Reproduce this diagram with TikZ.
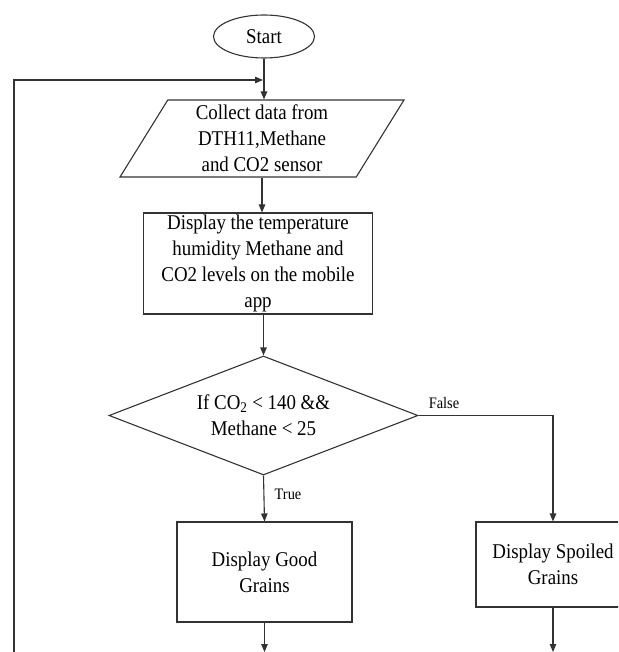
\documentclass[tikz,border=0pt]{standalone}
\usepackage{fontspec}
\setmainfont{Liberation Serif}[FakeStretch=0.9]
\usetikzlibrary{shapes.geometric,arrows.meta,calc}
\begin{document}
\begin{tikzpicture}[x=1pt,y=-1pt,
  every node/.style={font=\fontsize{21}{26}\selectfont},
  ln/.style={draw=black!80,line width=1.1pt},
  arr/.style={ln,-{Triangle[length=8pt,width=6.5pt]}},
  boxs/.style={ln,rectangle,inner sep=0pt,align=center},
  lbl/.style={font=\fontsize{16}{19}\selectfont,inner sep=0pt}]
\clip (0,0) rectangle (618,652);
\useasboundingbox (0,0) rectangle (618,652);
\node[ln,ellipse,minimum width=101pt,minimum height=43pt,inner sep=0pt] (start) at (264,36.5) {Start};
\node[ln,trapezium,trapezium left angle=54.5,trapezium right angle=125.5,trapezium stretches body,
      minimum width=284pt,minimum height=77pt,inner sep=0pt,align=center] (collect) at (262,138.5)
      {Collect data from\\DTH11,Methane\\and CO2 sensor};
\node[boxs,minimum width=229pt,minimum height=101pt] (disp) at (258,263.5)
      {Display the temperature\\humidity Methane and\\CO2 levels on the mobile\\app};
\node[ln,diamond,aspect=2.6,minimum width=309pt,minimum height=119pt,inner sep=0pt,align=center] (dec) at (263.5,415.5)
      {If CO\textsubscript{2} < 140 \&\&\\Methane < 25};
\node[boxs,minimum width=175pt,minimum height=100pt] (good) at (264.5,572) {Display Good\\Grains};
\node[boxs,minimum width=154pt,minimum height=85pt] (spoil) at (553,564.5) {Display Spoiled\\Grains};
\node[lbl,anchor=base west] (flbl) at ($(dec.east)+(10,-7.5)$) {False};
\node[lbl,anchor=west] (tlbl) at ($(dec.south)+(11,19)$) {True};
\coordinate (join) at (263,80);
\coordinate (loopbot) at (14,660);
\coordinate (goodout) at (264.5,652);
\coordinate (spoilout) at (553,652);
\draw[arr] (start.south) -- (start.south |- collect.north);
\draw[arr] (loopbot) |- (join);
\draw[arr] (collect.south) -- (collect.south |- disp.north);
\draw[arr] (disp.south -| dec.north) -- (dec.north);
\draw[arr] (dec.south) -- (good.north);
\draw[arr] (dec.east) -| (spoil.north);
\draw[arr] (good.south) -- (goodout);
\draw[arr] (spoil.south) -- (spoilout);
\end{tikzpicture}
\end{document}
